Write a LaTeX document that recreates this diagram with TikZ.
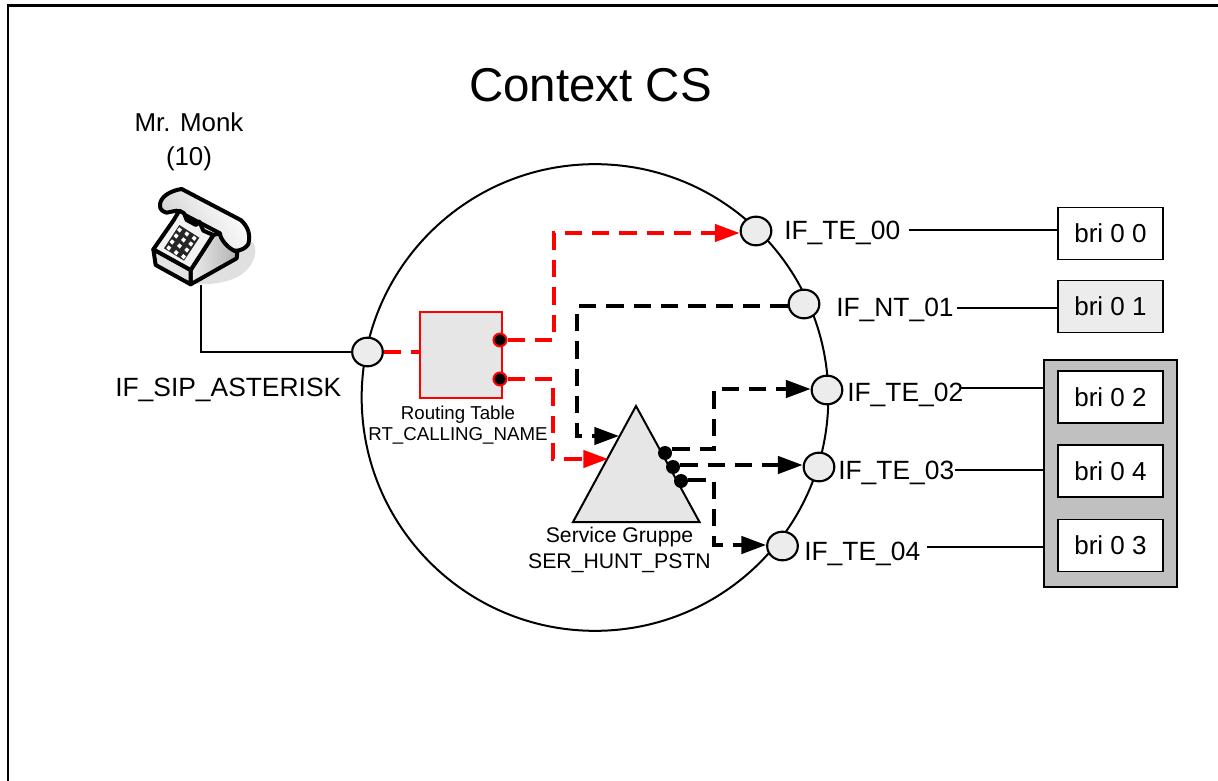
\documentclass[tikz,border=0pt]{standalone}
\usepackage{fontspec}
\setmainfont{Liberation Sans}
\usetikzlibrary{arrows.meta,shapes.geometric,calc}
\definecolor{panelgray}{HTML}{E6E6E6}
\definecolor{portgray}{HTML}{ECECEC}
\definecolor{groupgray}{HTML}{C0C0C0}
\definecolor{shadowgray}{HTML}{E0E0E0}
\tikzset{
  x=.75pt,y=-.75pt,
  port/.style={draw=black,line width=1.6pt,fill=portgray,ellipse,minimum width=23pt,minimum height=21.5pt,inner sep=0pt},
  dot/.style={circle,fill=black,inner sep=0pt,minimum size=10.5pt},
  rdot/.style={circle,fill=black,draw=red,line width=1.5pt,inner sep=0pt,minimum size=9.75pt},
  brick/.style={draw=black,line width=1.3pt,fill=white,inner sep=0pt,minimum width=79pt,minimum height=39pt,font=\fontsize{19.5pt}{22pt}\selectfont},
  lab/.style={inner sep=0pt,anchor=base west,font=\fontsize{19.8pt}{22pt}\selectfont},
  smalllab/.style={inner sep=0pt,anchor=base,font=\fontsize{14pt}{16pt}\selectfont},
  midlab/.style={inner sep=0pt,anchor=base,font=\fontsize{15.9pt}{18pt}\selectfont},
  plain/.style={line width=1.5pt,draw=black},
  blackdash/.style={line width=2.5pt,draw=black,dash pattern=on 13pt off 7.5pt},
  reddash/.style={line width=2.5pt,draw=red,dash pattern=on 13pt off 7.5pt},
  blackhead/.style={-{Triangle[length=18.5pt,width=13pt,fill=black]}},
  redhead/.style={-{Triangle[length=18.5pt,width=13pt,fill=red,color=red]}},
  phone/.style={draw=black,line width=3pt,line join=round},
}
\begin{document}
\begin{tikzpicture}
\useasboundingbox (0,0) rectangle (1218,781);
% page frame
\coordinate (frameA) at (8,781);
\coordinate (frameB) at (8,5.5);
\coordinate (frameC) at (1218,5.5);
\draw[line width=1.6pt,line cap=rect] (frameA) -- (frameB) -- (frameC);
% title
\node[inner sep=0pt,anchor=base,font=\fontsize{35.6pt}{40pt}\selectfont] (title) at (590.5,102) {Context CS};
% context circle
\node[draw=black,line width=1.5pt,circle,minimum size=350pt,inner sep=0pt] (ctx) at (595,397.5) {};
% phone label
\node[inner sep=0pt,anchor=base,font=\fontsize{19.4pt}{20pt}\selectfont] (monk1) at (189,132) {Mr. Monk};
\node[inner sep=0pt,anchor=base,font=\fontsize{19.4pt}{20pt}\selectfont] (monk2) at (189,166) {(10)};
% phone drawing
\begin{scope}[shift={(120,170)},x=.25pt,y=-.25pt]
  \fill[shadowgray] (296,190) -- (400,218) .. controls (418,250) and (395,300) .. (350,322) .. controls (310,342) and (260,345) .. (212,340) -- cycle;
  % handset
  \path[phone,top color=white,bottom color=gray!35,shading angle=-60] (120,108) .. controls (118,82) and (150,62) .. (185,57) -- (362,150) .. controls (385,170) and (392,195) .. (385,222) .. controls (375,240) and (345,248) .. (325,238) .. controls (305,225) and (300,205) .. (300,190) -- (170,122) -- (140,128) .. controls (128,125) and (120,118) .. (120,108) -- cycle;
  % right side
  \path[phone,left color=gray!15,right color=gray!60] (212,300) -- (280,195) -- (298,190) .. controls (310,225) and (335,240) .. (352,246) -- (350,265) -- (212,343) -- cycle;
  % front
  \path[phone,fill=gray!22] (100,238) -- (212,300) -- (212,343) -- (107,285) -- cycle;
  % face with cradle
  \path[phone,fill=gray!10] (100,238) -- (160,152) -- (178,122) -- (192,130) -- (200,150) -- (228,165) -- (238,155) -- (250,182) -- (280,195) -- (212,300) -- cycle;
  % keypad
  \fill[black!85] (178,165) -- (238,203) -- (192,272) -- (132,235) -- cycle;
  \foreach \kx/\ky in {178/180,200/192,222/205,168/198,190/210,212/222,156/216,178/228,200/240,146/234,168/248,190/260}
    \fill[white] (\kx-7,\ky) -- (\kx,\ky-8) -- (\kx+8,\ky-1) -- (\kx+1,\ky+8) -- cycle;
\end{scope}
\coordinate (phonefoot) at (201,285);
% ports
\node[port] (sip) at (367.5,352) {};
\node[port] (te00) at (756,231) {};
\node[port] (nt01) at (804,304) {};
\node[port] (te02) at (827,390) {};
\node[port] (te03) at (819,467) {};
\node[port] (te04) at (782.5,546) {};
% routing table
\node[draw=red,line width=1.5pt,fill=panelgray,minimum width=61.5pt,minimum height=65pt,inner sep=0pt] (rt) at (460.5,355) {};
\node[rdot] (rt1) at (500,340) {};
\node[rdot] (rt2) at (500,379) {};
\node[smalllab] (rtl1) at (458,419) {Routing Table};
\node[smalllab] (rtl2) at (458,440) {RT\_CALLING\_NAME};
% service group triangle
\coordinate (triA) at (636,406);
\coordinate (triB) at (573,522);
\coordinate (triC) at (699.5,522);
\draw[line width=1.5pt,fill=panelgray,line join=miter] (triA) -- (triB) -- (triC) -- cycle;
\node[dot] (sg1) at (665,453) {};
\node[dot] (sg2) at (673,467) {};
\node[dot] (sg3) at (681,481) {};
\node[midlab] (sgl1) at (619.5,542) {Service Gruppe};
\node[midlab] (sgl2) at (619.5,568) {SER\_HUNT\_PSTN};
% labels
\node[lab] (lsip) at (115,396) {IF\_SIP\_ASTERISK};
\node[lab] (l00) at (784,240) {IF\_TE\_00};
\node[lab] (l01) at (836,316) {IF\_NT\_01};
\node[lab] (l02) at (847,401) {IF\_TE\_02};
\node[lab] (l03) at (838,479) {IF\_TE\_03};
\node[lab] (l04) at (804,560) {IF\_TE\_04};
% bri boxes
\node[brick] (b00) at (1110.5,233.5) {bri 0 0};
\node[brick,fill=portgray] (b01) at (1110.5,306.5) {bri 0 1};
\node[draw=black,line width=1.5pt,fill=groupgray,minimum width=99.5pt,minimum height=170pt,inner sep=0pt] (grp) at (1110.5,473.5) {};
\node[brick] (b02) at (1110.5,397) {bri 0 2};
\node[brick] (b04) at (1110.5,471) {bri 0 4};
\node[brick] (b03) at (1110.5,545.5) {bri 0 3};
% plain connectors
\coordinate (phonecorner) at (201,352);
\draw[plain] (phonefoot) -- (phonecorner) -- (sip.west);
\coordinate (s00) at (909,230);
\coordinate (s01) at (957,308);
\coordinate (s02) at (960,388);
\coordinate (s03) at (955,470);
\coordinate (s04) at (927,547);
\draw[plain] (s00) -- (b00.west |- s00);
\draw[plain] (s01) -- (b01.west |- s01);
\draw[plain] (s02) -- (grp.west |- s02);
\draw[plain] (s03) -- (grp.west |- s03);
\draw[plain] (s04) -- (grp.west |- s04);
% red connectors
\draw[reddash] (sip.east) -- (rt.west |- sip.east);
\coordinate (r1a) at (554,340);
\coordinate (r1b) at (554,233);
\draw[reddash,redhead] (rt1) -- (r1a) -- (r1b) -- (te00.west |- r1b);
\coordinate (r2a) at (553,379);
\coordinate (r2b) at (553,459);
\coordinate (r2c) at (608,459);
\draw[reddash,redhead] (rt2) -- (r2a) -- (r2b) -- (r2c);
% black connectors
\coordinate (k0a) at (577,306);
\coordinate (k0b) at (577,436);
\coordinate (k0c) at (619,436);
\draw[blackdash,blackhead] (nt01.west |- k0a) -- (k0a) -- (k0b) -- (k0c);
\coordinate (k1a) at (714,449);
\coordinate (k1b) at (714,389);
\draw[blackdash,blackhead] (sg1.east |- k1a) -- (k1a) -- (k1b) -- (te02.west |- k1b);
\coordinate (k2a) at (714,465);
\draw[blackdash,blackhead] (sg2.east |- k2a) -- (k2a) -- (te03.west |- k2a);
\coordinate (k3a) at (714,480);
\coordinate (k3b) at (714,545);
\draw[blackdash,blackhead] (sg3.east |- k3a) -- (k3a) -- (k3b) -- (te04.west |- k3b);
\end{tikzpicture}
\end{document}
